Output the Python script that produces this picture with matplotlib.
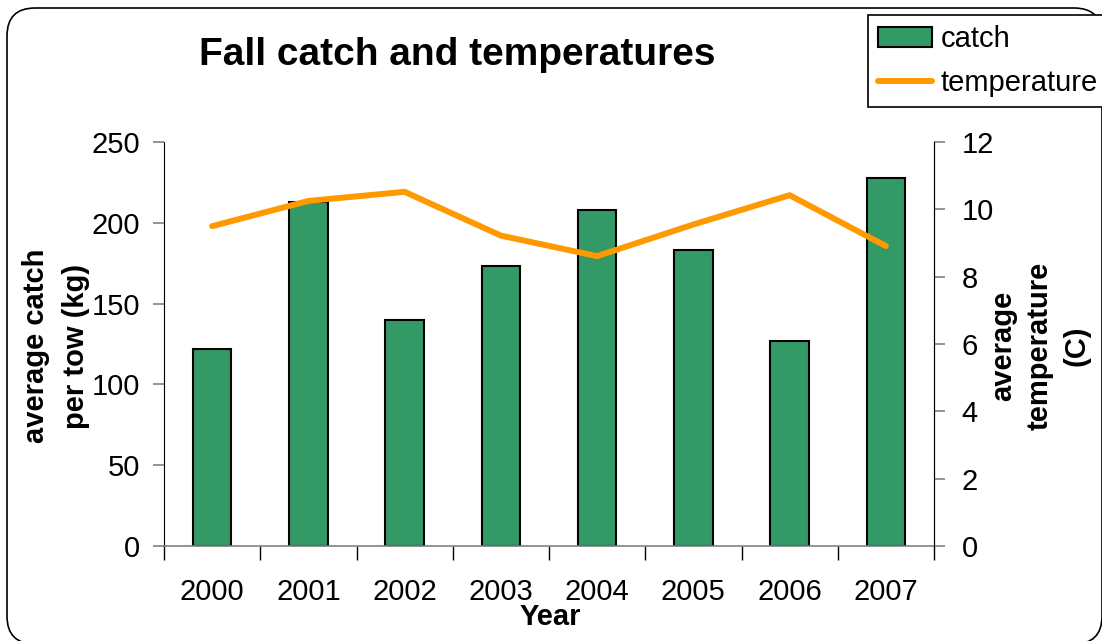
import matplotlib
matplotlib.use("Agg")
import matplotlib.pyplot as plt
from matplotlib.patches import FancyBboxPatch
import numpy as np

plt.rcParams['font.family'] = ['Liberation Sans', 'DejaVu Sans']

years = ["2000", "2001", "2002", "2003", "2004", "2005", "2006", "2007"]
catch = [122, 213, 140, 173, 208, 183, 127, 228]
temperature = [9.5, 10.25, 10.52, 9.22, 8.61, 9.55, 10.42, 8.91]

W, H = 1102, 641
fig = plt.figure(figsize=(W / 100, H / 100), dpi=100)

# rounded frame around the whole chart
frame = FancyBboxPatch((7 / 100, (H - 644) / 100), (1102 - 7) / 100, (644 - 8) / 100,
                       boxstyle="round,pad=0,rounding_size=0.28",
                       transform=fig.dpi_scale_trans, fill=False,
                       edgecolor="black", linewidth=1.2, zorder=0)
fig.patches.append(frame)

ax = fig.add_axes([164 / W, 1 - 546 / H, (934 - 164) / W, (546 - 142) / H])
ax2 = ax.twinx()

x = np.arange(len(years))
bars = ax.bar(x, catch, width=0.4, color="#339966", edgecolor="black",
              linewidth=1.5, label="catch", zorder=2)
line, = ax2.plot(x, temperature, color="#FF9900", linewidth=4.3,
                 solid_capstyle="round", label="temperature", zorder=3)

ax.set_xlim(-0.5, len(years) - 0.5)
ax.set_ylim(0, 250)
ax2.set_ylim(0, 12)
ax.set_yticks([0, 50, 100, 150, 200, 250])
ax2.set_yticks([0, 2, 4, 6, 8, 10, 12])

# ticks sit between categories, labels at the centres
ax.set_xticks(np.arange(-0.5, len(years), 1.0))
ax.set_xticklabels([])
ax.set_xticks(x, minor=True)
ax.set_xticklabels(years, minor=True)
ax.tick_params(axis="x", which="major", length=10, width=1, color="black", direction="out")
ax.tick_params(axis="x", which="minor", length=0, pad=23, labelsize=21)
ax.tick_params(axis="y", length=8, width=1.2, color="#808080", pad=9, labelsize=21)
ax2.tick_params(axis="y", length=8, width=1.2, color="#808080", pad=12, labelsize=21)

for a in (ax, ax2):
    a.spines["top"].set_visible(False)
ax.spines["left"].set_color("black")
ax.spines["bottom"].set_color("#808080")
ax.spines["bottom"].set_linewidth(1.2)
ax2.spines["right"].set_color("black")
ax2.spines["left"].set_visible(False)
ax2.spines["bottom"].set_visible(False)

fig.text(457 / W, 1 - 55 / H, "Fall catch and temperatures", ha="center", va="center",
         fontsize=28, fontweight="bold")
fig.text(56 / W, 1 - 346 / H, "average catch\nper tow (kg)", ha="center", va="center",
         rotation=90, fontsize=21, fontweight="bold", multialignment="center",
         linespacing=1.5)
fig.text(1040 / W, 1 - 346 / H, "average\ntemperature\n(C)", ha="center", va="center",
         rotation=90, fontsize=21, fontweight="bold", multialignment="center",
         linespacing=1.4)
fig.text(550 / W, 1 - 617 / H, "Year", ha="center", va="center",
         fontsize=21, fontweight="bold")

leg = fig.legend([bars, line], ["catch", "temperature"], loc="upper left",
                 bbox_to_anchor=(868 / W, 1 - 15 / H), fontsize=21, frameon=True,
                 fancybox=False, edgecolor="black", framealpha=1,
                 handlelength=1.85, handleheight=0.65, handletextpad=0.3,
                 borderpad=0.35, labelspacing=0.55, borderaxespad=0)
leg.get_frame().set_linewidth(1.2)

fig.savefig("out.png", dpi=100)
